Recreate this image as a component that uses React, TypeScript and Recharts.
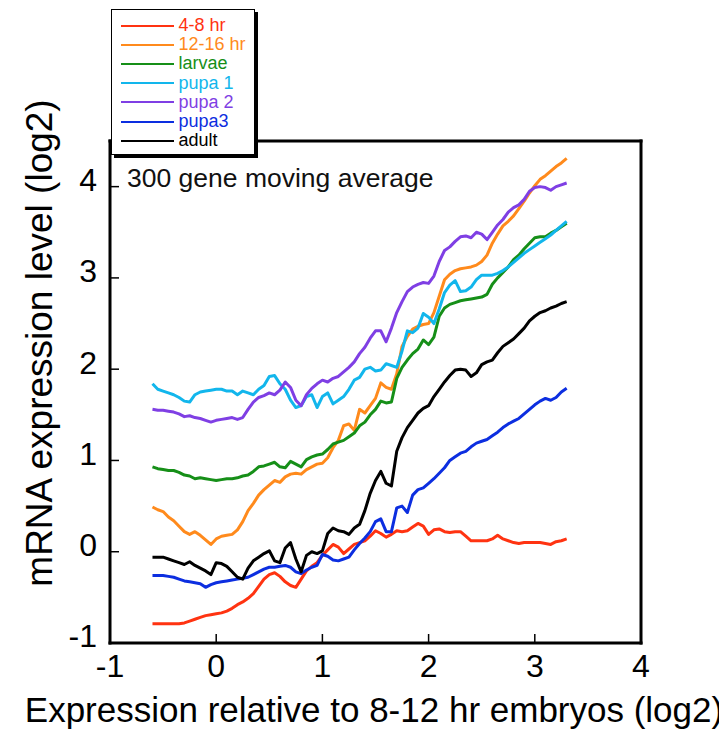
import { LineChart, Line, XAxis, YAxis, Legend } from 'recharts';

// x positions of the moving-average samples (log2 ratio vs 8-12 hr embryos)
const X_VALUES = [
  -0.6, -0.55, -0.5, -0.45, -0.4, -0.35, -0.3, -0.25, -0.2, -0.15,
  -0.1, -0.05, 0, 0.05, 0.1, 0.15, 0.2, 0.25, 0.3, 0.35,
  0.4, 0.45, 0.5, 0.55, 0.6, 0.65, 0.7, 0.75, 0.8, 0.85,
  0.9, 0.95, 1, 1.05, 1.1, 1.15, 1.2, 1.25, 1.3, 1.35,
  1.4, 1.45, 1.5, 1.55, 1.6, 1.65, 1.7, 1.75, 1.8, 1.85,
  1.9, 1.95, 2, 2.05, 2.1, 2.15, 2.2, 2.25, 2.3, 2.35,
  2.4, 2.45, 2.5, 2.55, 2.6, 2.65, 2.7, 2.75, 2.8, 2.85,
  2.9, 2.95, 3, 3.05, 3.1, 3.15, 3.2, 3.25, 3.3,
];

const EMBRYO_4_8 = [
  -0.79, -0.79, -0.79, -0.79, -0.79, -0.79, -0.78, -0.76, -0.74, -0.72,
  -0.7, -0.69, -0.68, -0.67, -0.65, -0.62, -0.58, -0.55, -0.51, -0.46,
  -0.38, -0.3, -0.25, -0.23, -0.27, -0.33, -0.37, -0.39, -0.3, -0.21,
  -0.16, -0.12, -0.04, 0.02, 0.08, 0.05, -0.02, 0.03, 0.08, 0.1,
  0.12, 0.17, 0.23, 0.2, 0.16, 0.19, 0.23, 0.22, 0.23, 0.27,
  0.31, 0.28, 0.19, 0.24, 0.25, 0.22, 0.21, 0.22, 0.22, 0.17,
  0.12, 0.12, 0.12, 0.12, 0.14, 0.18, 0.14, 0.12, 0.1, 0.09,
  0.1, 0.1, 0.1, 0.1, 0.09, 0.08, 0.11, 0.12, 0.14,
];

const EMBRYO_12_16 = [
  0.49, 0.46, 0.44, 0.38, 0.34, 0.28, 0.22, 0.19, 0.22, 0.18,
  0.13, 0.08, 0.14, 0.17, 0.18, 0.19, 0.24, 0.33, 0.45, 0.53,
  0.62, 0.68, 0.73, 0.78, 0.76, 0.82, 0.85, 0.86, 0.85, 0.9,
  0.93, 0.96, 0.97, 1.03, 1.14, 1.22, 1.38, 1.4, 1.33, 1.56,
  1.52, 1.6, 1.68, 1.85, 1.8, 1.78, 1.95, 2.25, 2.36, 2.44,
  2.47, 2.49, 2.5, 2.62, 2.8, 2.98, 3.04, 3.08, 3.1, 3.11,
  3.12, 3.14, 3.18, 3.25, 3.38, 3.48, 3.57, 3.62, 3.68, 3.76,
  3.84, 3.93, 4.01, 4.08, 4.12, 4.17, 4.22, 4.26, 4.31,
];

const LARVAE = [
  0.93, 0.91, 0.9, 0.89, 0.89, 0.87, 0.84, 0.83, 0.8, 0.81,
  0.8, 0.79, 0.78, 0.79, 0.8, 0.8, 0.81, 0.83, 0.84, 0.88,
  0.93, 0.94, 0.96, 0.98, 0.93, 0.92, 0.99, 0.96, 0.93, 1.01,
  1.04, 1.06, 1.07, 1.12, 1.18, 1.2, 1.22, 1.26, 1.3, 1.38,
  1.42, 1.5, 1.56, 1.65, 1.63, 1.64, 1.9, 2.02, 2.1, 2.17,
  2.22, 2.32, 2.27, 2.35, 2.58, 2.67, 2.71, 2.73, 2.75, 2.76,
  2.77, 2.78, 2.79, 2.82, 2.93, 3.0, 3.06, 3.12, 3.2, 3.25,
  3.32, 3.38, 3.44, 3.45, 3.45, 3.49, 3.52, 3.56, 3.6,
];

const PUPA_1 = [
  1.84, 1.78, 1.76, 1.74, 1.72, 1.69, 1.65, 1.64, 1.72, 1.75,
  1.76, 1.77, 1.78, 1.78, 1.76, 1.76, 1.72, 1.76, 1.74, 1.72,
  1.78, 1.82, 1.92, 1.93, 1.84, 1.78, 1.66, 1.58, 1.6, 1.7,
  1.72, 1.58, 1.7, 1.74, 1.62, 1.66, 1.7, 1.78, 1.88, 1.91,
  2.0, 2.02, 1.98, 1.99, 2.06, 2.04, 2.02, 2.2, 2.42, 2.4,
  2.45, 2.61, 2.57, 2.5, 2.66, 2.84, 2.92, 2.97, 2.85, 2.86,
  2.9, 2.98, 3.03, 3.03, 3.03, 3.05, 3.08, 3.12, 3.17, 3.22,
  3.27, 3.31, 3.35, 3.39, 3.43, 3.47, 3.52, 3.57, 3.62,
];

const PUPA_2 = [
  1.56, 1.55, 1.55, 1.54, 1.53, 1.51, 1.48, 1.49, 1.47, 1.46,
  1.44, 1.42, 1.44, 1.45, 1.46, 1.47, 1.45, 1.47, 1.56, 1.64,
  1.69, 1.71, 1.74, 1.72, 1.77, 1.86, 1.8, 1.66, 1.6, 1.72,
  1.79, 1.84, 1.88, 1.86, 1.9, 1.92, 1.97, 2.02, 2.08, 2.17,
  2.24, 2.34, 2.42, 2.42, 2.3, 2.45, 2.62, 2.74, 2.85, 2.9,
  2.93, 2.95, 2.94, 3.02, 3.18, 3.3, 3.34, 3.4, 3.45, 3.46,
  3.44, 3.5, 3.48, 3.42, 3.5, 3.58, 3.64, 3.72, 3.77, 3.8,
  3.86, 3.95, 3.99, 4.0, 3.99, 3.96, 4.0, 4.02, 4.04,
];

const PUPA_3 = [
  -0.26, -0.26, -0.26, -0.27, -0.28, -0.3, -0.32, -0.33, -0.34, -0.35,
  -0.39, -0.36, -0.34, -0.33, -0.32, -0.31, -0.3, -0.29, -0.28, -0.25,
  -0.22, -0.19, -0.17, -0.17, -0.16, -0.15, -0.17, -0.22, -0.24, -0.2,
  -0.17, -0.15, -0.03, -0.05, -0.09, -0.1, -0.08, -0.06, 0.02, 0.09,
  0.15, 0.22, 0.33, 0.36, 0.22, 0.22, 0.48, 0.5, 0.43, 0.62,
  0.68, 0.7, 0.75, 0.8, 0.86, 0.92, 1.0, 1.04, 1.08, 1.1,
  1.15, 1.19, 1.21, 1.23, 1.27, 1.31, 1.36, 1.4, 1.43, 1.46,
  1.51, 1.56, 1.61, 1.65, 1.68, 1.66, 1.69, 1.75, 1.79,
];

const ADULT = [
  -0.06, -0.06, -0.06, -0.08, -0.1, -0.12, -0.14, -0.11, -0.15, -0.18,
  -0.21, -0.25, -0.12, -0.13, -0.16, -0.22, -0.28, -0.3, -0.18, -0.1,
  -0.06, -0.02, 0.01, -0.1, -0.12, 0.04, 0.1, -0.08, -0.22, -0.04,
  0.0, -0.02, 0.01, 0.2, 0.26, 0.23, 0.22, 0.19, 0.26, 0.3,
  0.45, 0.64, 0.78, 0.88, 0.75, 0.72, 1.1, 1.25, 1.36, 1.44,
  1.52, 1.57, 1.6, 1.7, 1.78, 1.86, 1.93, 1.99, 2.0, 1.99,
  1.92, 1.96, 2.05, 2.08, 2.1, 2.18, 2.25, 2.29, 2.33, 2.39,
  2.45, 2.53, 2.58, 2.62, 2.64, 2.67, 2.69, 2.72, 2.74,
];

const X_TICKS = [-1, 0, 1, 2, 3, 4];
const Y_TICKS = [-1, 0, 1, 2, 3, 4];

const SERIES = [
  { key: 'e48', name: '4-8 hr', color: '#ff3311', values: EMBRYO_4_8 },
  { key: 'e1216', name: '12-16 hr', color: '#ff8a1c', values: EMBRYO_12_16 },
  { key: 'larvae', name: 'larvae', color: '#168f18', values: LARVAE },
  { key: 'pupa1', name: 'pupa 1', color: '#12b6ec', values: PUPA_1 },
  { key: 'pupa2', name: 'pupa 2', color: '#7f3fe4', values: PUPA_2 },
  { key: 'pupa3', name: 'pupa3', color: '#0c2ee0', values: PUPA_3 },
  { key: 'adult', name: 'adult', color: '#000000', values: ADULT },
];

const chartData = X_VALUES.map((x, i) => {
  const row: Record<string, number> = { x };
  SERIES.forEach((s) => {
    row[s.key] = s.values[i];
  });
  return row;
});

const FONT = '"Liberation Sans", Arial, Helvetica, sans-serif';
const AXIS_LINE = { stroke: '#000', strokeWidth: 3, strokeLinecap: 'square' as const };
const TICK_LINE = { stroke: '#000', strokeWidth: 1.5 };

function LegendBox() {
  return (
    <div
      style={{
        width: 144,
        height: 146,
        boxSizing: 'border-box',
        border: '1.5px solid #000',
        boxShadow: '3px 3px 0 #000',
        background: '#fff',
        paddingTop: 6,
        fontFamily: FONT,
      }}
    >
      {SERIES.map((s) => (
        <div
          key={s.key}
          style={{ display: 'flex', alignItems: 'center', height: 19.2 }}
        >
          <span
            style={{
              display: 'inline-block',
              width: 53,
              borderTop: `2.5px solid ${s.color}`,
              marginLeft: 8.5,
              marginRight: 5,
            }}
          />
          <span style={{ color: s.color, fontSize: 18, lineHeight: '19px' }}>
            {s.name}
          </span>
        </div>
      ))}
    </div>
  );
}

export default function App() {
  return (
    <div style={{ position: 'relative', width: 719, height: 726, fontFamily: FONT }}>
      <LineChart
        width={719}
        height={726}
        data={chartData}
        margin={{ top: 132, right: 85, bottom: 0, left: 0 }}
        style={{ fontFamily: FONT }}
      >
        <XAxis
          dataKey="x"
          type="number"
          domain={[-1, 4]}
          ticks={X_TICKS}
          interval={0}
          height={91}
          axisLine={AXIS_LINE}
          tickLine={TICK_LINE}
          tickSize={-9}
          tickMargin={20}
          tick={{ fill: '#000', fontSize: 32 }}
          label={{
            value: 'Expression relative to 8-12 hr embryos (log2)',
            position: 'center',
            dx: -1.5,
            dy: 21,
            fill: '#000',
            fontSize: 35,
          }}
        />
        <XAxis
          xAxisId="top"
          dataKey="x"
          type="number"
          orientation="top"
          domain={[-1, 4]}
          ticks={[0, 1, 2, 3]}
          interval={0}
          height={1}
          axisLine={AXIS_LINE}
          tickLine={TICK_LINE}
          tickSize={-9}
          tick={false}
        />
        <YAxis
          type="number"
          domain={[-1, 4.5]}
          ticks={Y_TICKS}
          interval={0}
          width={102}
          axisLine={AXIS_LINE}
          tickLine={TICK_LINE}
          tickSize={-9}
          tickMargin={22}
          tick={{ fill: '#000', fontSize: 32, dy: -7 }}
          label={{
            value: 'mRNA expression level (log2)',
            angle: -90,
            position: 'center',
            dx: -20,
            dy: -49,
            fill: '#000',
            fontSize: 37,
          }}
        />
        <YAxis
          yAxisId="right"
          type="number"
          orientation="right"
          domain={[-1, 4.5]}
          ticks={[0, 1, 2, 3, 4]}
          interval={0}
          width={1}
          axisLine={AXIS_LINE}
          tickLine={TICK_LINE}
          tickSize={-9}
          tick={false}
        />
        {SERIES.map((s) => (
          <Line
            key={s.key}
            dataKey={s.key}
            name={s.name}
            type="linear"
            stroke={s.color}
            strokeWidth={3}
            strokeLinejoin="round"
            dot={false}
            activeDot={false}
            isAnimationActive={false}
          />
        ))}
        <Legend
          layout="horizontal"
          verticalAlign="middle"
          align="center"
          content={() => <LegendBox />}
          wrapperStyle={{ left: 103, top: 1, width: 'auto', height: 'auto' }}
        />
      </LineChart>
      <div
        style={{
          position: 'absolute',
          left: 119,
          top: 157,
          fontSize: 26.5,
          lineHeight: '26.5px',
          color: '#111',
          whiteSpace: 'nowrap',
          fontFamily: FONT,
        }}
      >
        300 gene moving average
      </div>
    </div>
  );
}
